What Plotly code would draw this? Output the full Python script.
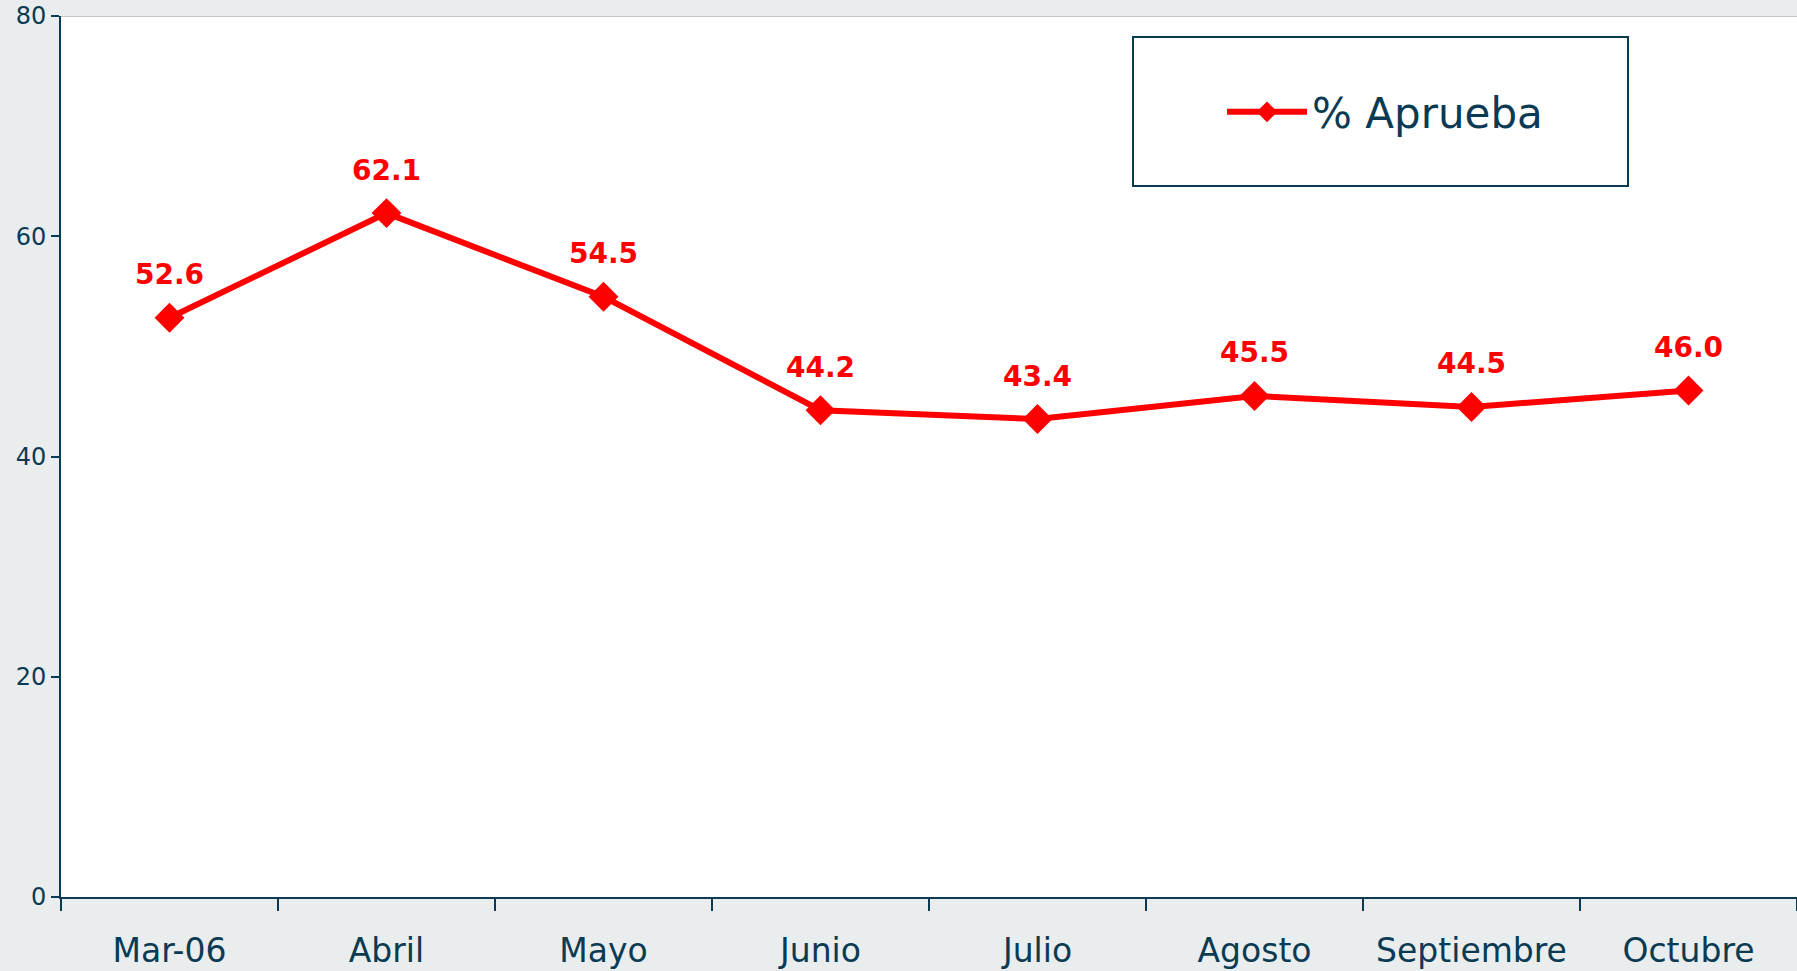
import plotly.graph_objects as go

categories = ["Mar-06", "Abril", "Mayo", "Junio", "Julio", "Agosto", "Septiembre", "Octubre"]
aprueba = [52.6, 62.1, 54.5, 44.2, 43.4, 45.5, 44.5, 46.0]
y_ticks = [0, 20, 40, 60, 80]

NAVY = "#0b3a53"
RED = "#ff0000"
BG = "#e9edee"
FONT = "DejaVu Sans, Verdana, sans-serif"

fig = go.Figure()
fig.add_trace(go.Scatter(
    x=categories, y=aprueba, mode="lines+markers", name="% Aprueba",
    line=dict(color=RED, width=6),
    marker=dict(symbol="diamond", size=23, color=RED),
))

for c, v in zip(categories, aprueba):
    fig.add_annotation(x=c, y=v, text=f"<b>{v:.1f}</b>", showarrow=False,
                       yshift=43, font=dict(family=FONT, size=28, color=RED))

# top border line of plot area
fig.add_shape(type="line", xref="paper", yref="y", x0=0, x1=1, y0=80, y1=80,
              line=dict(color="#c3c3c3", width=2))
# legend box
fig.add_shape(type="rect", xref="paper", yref="paper",
              x0=(1133 - 61) / 1736, x1=(1628 - 61) / 1736,
              y0=(897 - 186) / 881, y1=(897 - 37) / 881,
              line=dict(color=NAVY, width=2), fillcolor="white", layer="below")

fig.update_layout(
    width=1797, height=971,
    margin=dict(l=61, r=0, t=16, b=74),
    paper_bgcolor=BG, plot_bgcolor="white",
    font=dict(family=FONT, color=NAVY),
    showlegend=True,
    legend=dict(x=(1222 - 61) / 1736, y=(897 - 112) / 881, xanchor="left", yanchor="middle",
                bgcolor="rgba(0,0,0,0)", borderwidth=0, itemwidth=80,
                font=dict(family=FONT, size=42, color=NAVY)),
    xaxis=dict(range=[-0.5, 7.5], tickson="boundaries", ticks="outside", ticklen=12,
               tickwidth=2, tickcolor=NAVY, showline=True, linecolor=NAVY, linewidth=2,
               showgrid=False, tickfont=dict(size=33, color=NAVY), ticklabelstandoff=23,
               fixedrange=True),
    yaxis=dict(range=[0, 80], tickvals=y_ticks, ticks="outside", ticklen=8, tickwidth=2,
               tickcolor=NAVY, showline=True, linecolor=NAVY, linewidth=2, showgrid=False,
               zeroline=False, tickfont=dict(size=24, color=NAVY), fixedrange=True),
)

fig.write_html("out.html", config={"displayModeBar": False},
               post_script="document.body.style.margin='0';document.body.style.background='%s';" % BG)
